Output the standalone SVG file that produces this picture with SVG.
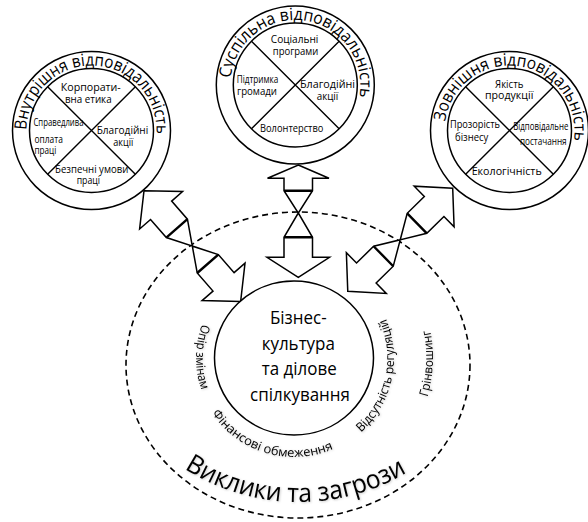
<svg xmlns="http://www.w3.org/2000/svg" width="588" height="522" viewBox="0 0 588 522">
<style>
.ln{fill:#fff;stroke:#000;stroke-width:1.5}
.x{fill:none;stroke:#000;stroke-width:1.4}
.dash{fill:none;stroke:#000;stroke-width:1.6;stroke-dasharray:6 4}
.arrow{fill:#fff;stroke:#000;stroke-width:1.5;stroke-linejoin:miter}
.bar{fill:none;stroke:#000;stroke-width:2.4}
text{font-family:"Open Sans","Liberation Sans",sans-serif;fill:#000}
.lbl{font-size:10.5px;text-anchor:middle}
.lbs{font-size:10.5px;text-anchor:start}
.ring{font-size:17px}
.mid{font-size:17.5px;text-anchor:middle}
.thr{font-size:12.5px}
.big{font-size:26px}
.sh{filter:url(#sh)}
</style>
<defs>
<filter id="sh" x="-20%" y="-30%" width="140%" height="160%">
<feDropShadow dx="0.8" dy="0.8" stdDeviation="0.9" flood-color="#000" flood-opacity="0.22"/>
</filter>
<g id="dbl">
<path class="arrow" d="M0,0 L26,-28.5 L26,-14 L50,-14 L73.5,0 L97,-14 L121,-14 L121,-28.5 L147,0 L121,28.5 L121,14 L97,14 L73.5,0 L50,14 L26,14 L26,28.5 Z"/>
<path class="bar" d="M50,-14 V14 M97,-14 V14"/>
</g>
<path id="arcL" d="M26.5,129.93 A65,65 0 1 1 154.96,144.57"/>
<path id="arcT" d="M230.66,78.21 A65,65 0 1 1 356.18,107.76"/>
<path id="arcR" d="M445.1,121.68 A65,65 0 1 1 571.18,151.02"/>
<path id="arcOpir" d="M202.03,324.16 A98,98 0 0 0 209.13,407"/>
<path id="arcFin" d="M211.93,413.36 A99,99 0 0 0 357.64,433.84"/>
<path id="arcVid" d="M360.91,432.31 A100,100 0 0 0 375.92,300.64"/>
<path id="arcGrin" d="M427.41,397.02 A139,139 0 0 0 424.62,310.46"/>
<path id="arcBig" d="M184.56,468.64 A213,213 0 0 0 435.92,452.16"/>
</defs>

<g id="challenges">
<ellipse class="dash" cx="298" cy="365" rx="172" ry="153"/>
<text class="thr sh"><textPath href="#arcOpir" textLength="67" lengthAdjust="spacingAndGlyphs">Опір змінам</textPath></text>
<text class="thr sh"><textPath href="#arcFin" textLength="137" lengthAdjust="spacingAndGlyphs">Фінансові обмеження</textPath></text>
<text class="thr sh"><textPath href="#arcVid" textLength="124" lengthAdjust="spacingAndGlyphs">Відсутність регуляцій</textPath></text>
<text class="thr sh"><textPath href="#arcGrin" textLength="67.5" lengthAdjust="spacingAndGlyphs">Грінвошинг</textPath></text>
<text class="big sh"><textPath href="#arcBig" textLength="234" lengthAdjust="spacingAndGlyphs">Виклики та загрози</textPath></text>
</g>

<g id="connectors">
<use href="#dbl" transform="translate(144,190.7) rotate(48.9)"/>
<use href="#dbl" transform="translate(452.7,188.3) rotate(135.55)"/>
<path class="arrow" d="M298.3,165 L329,178.3 L312.5,178.3 L312.5,190.7 L298.3,213 L312.5,237.3 L312.5,257.3 L329.5,257.3 L298.3,277.3 L267,257.3 L284,257.3 L284,237.3 L298.3,213 L284,190.7 L284,178.3 L267.5,178.3 Z"/>
<path class="bar" d="M284,190.7 H312.5 M284,237.3 H312.5"/>
</g>

<g id="node-center">
<ellipse class="ln" cx="294" cy="358" rx="79.5" ry="77"/>
<text class="mid" x="298.3" y="323.5" textLength="56.7" lengthAdjust="spacingAndGlyphs">Бізнес-</text>
<text class="mid" x="298.3" y="349.5" textLength="73.3" lengthAdjust="spacingAndGlyphs">культура</text>
<text class="mid" x="299.2" y="375" textLength="75" lengthAdjust="spacingAndGlyphs">та ділове</text>
<text class="mid" x="300" y="401" textLength="100" lengthAdjust="spacingAndGlyphs">спілкування</text>
</g>

<g id="node-internal">
<circle class="ln" cx="91.5" cy="130.5" r="79"/>
<circle class="ln" cx="91.5" cy="130.5" r="62"/>
<path class="x" d="M47.66,86.66 L135.34,174.34 M135.34,86.66 L47.66,174.34"/>
<text class="ring"><textPath href="#arcL" textLength="206.5" lengthAdjust="spacingAndGlyphs">Внутрішня відповідальність</textPath></text>
<text class="lbl" x="90.8" y="90.5" textLength="60" lengthAdjust="spacingAndGlyphs">Корпорати-</text>
<text class="lbl" x="88.3" y="102.7" textLength="46.7" lengthAdjust="spacingAndGlyphs">вна етика</text>
<text class="lbs" x="33.5" y="126" textLength="50" lengthAdjust="spacingAndGlyphs">Справедлива</text>
<text class="lbs" x="34.5" y="142.5" textLength="28.3" lengthAdjust="spacingAndGlyphs">оплата</text>
<text class="lbs" x="34.5" y="153.5" textLength="21.7" lengthAdjust="spacingAndGlyphs">праці</text>
<text class="lbl" x="122.5" y="134.3" textLength="51.6" lengthAdjust="spacingAndGlyphs">Благодійні</text>
<text class="lbl" x="123.3" y="146" textLength="20" lengthAdjust="spacingAndGlyphs">акції</text>
<text class="lbl" x="91.7" y="172.7" textLength="73.3" lengthAdjust="spacingAndGlyphs">Безпечні умови</text>
<text class="lbl" x="88.3" y="184" textLength="23.3" lengthAdjust="spacingAndGlyphs">праці</text>
</g>

<g id="node-social">
<circle class="ln" cx="295.3" cy="85" r="79"/>
<circle class="ln" cx="295.3" cy="85" r="62"/>
<path class="x" d="M251.46,41.16 L339.14,128.84 M339.14,41.16 L251.46,128.84"/>
<text class="ring"><textPath href="#arcT" textLength="209" lengthAdjust="spacingAndGlyphs">Суспільна відповідальність</textPath></text>
<text class="lbl" x="294.6" y="42.5" textLength="47.5" lengthAdjust="spacingAndGlyphs">Соціальні</text>
<text class="lbl" x="295.6" y="55" textLength="45.5" lengthAdjust="spacingAndGlyphs">програми</text>
<text class="lbl" x="257.5" y="82.5" textLength="41.6" lengthAdjust="spacingAndGlyphs">Підтримка</text>
<text class="lbl" x="257" y="94.5" textLength="40" lengthAdjust="spacingAndGlyphs">громади</text>
<text class="lbl" x="327.5" y="88" textLength="55" lengthAdjust="spacingAndGlyphs">Благодійні</text>
<text class="lbl" x="327.5" y="100" textLength="21.6" lengthAdjust="spacingAndGlyphs">акції</text>
<text class="lbl" x="291.7" y="131.5" textLength="63.3" lengthAdjust="spacingAndGlyphs">Волонтерство</text>
</g>

<g id="node-external">
<circle class="ln" cx="509.5" cy="130.5" r="79"/>
<circle class="ln" cx="509.5" cy="130.5" r="62"/>
<path class="x" d="M465.66,86.66 L553.34,174.34 M553.34,86.66 L465.66,174.34"/>
<text class="ring"><textPath href="#arcR" textLength="205" lengthAdjust="spacingAndGlyphs">Зовнішня відповідальність</textPath></text>
<text class="lbl" x="509.2" y="88.3" textLength="28.3" lengthAdjust="spacingAndGlyphs">Якість</text>
<text class="lbl" x="509.2" y="99" textLength="48.3" lengthAdjust="spacingAndGlyphs">продукції</text>
<text class="lbl" x="475" y="128" textLength="50" lengthAdjust="spacingAndGlyphs">Прозорість</text>
<text class="lbl" x="471.7" y="141" textLength="33.3" lengthAdjust="spacingAndGlyphs">бізнесу</text>
<text class="lbl" x="540.8" y="130" textLength="55" lengthAdjust="spacingAndGlyphs">Відповідальне</text>
<text class="lbl" x="543.3" y="145" textLength="46.7" lengthAdjust="spacingAndGlyphs">постачання</text>
<text class="lbl" x="506.7" y="175" textLength="70" lengthAdjust="spacingAndGlyphs">Екологічність</text>
</g>
</svg>
